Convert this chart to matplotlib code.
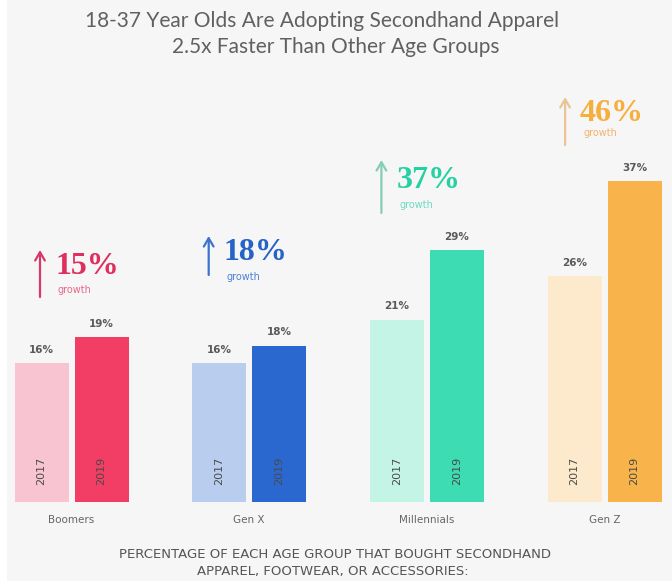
import matplotlib
matplotlib.use("Agg")
import matplotlib.pyplot as plt
from matplotlib.patches import Rectangle
import numpy as np

# ---- data -------------------------------------------------------------
groups = ["Boomers", "Gen X", "Millennials", "Gen Z"]
years = ["2017", "2019"]
share_2017 = [16, 16, 21, 26]
share_2019 = [19, 18, 29, 37]
growth = ["15%", "18%", "37%", "46%"]

# ---- styling ----------------------------------------------------------
light_colors = ["#f9c4d1", "#b9cdee", "#c4f4e6", "#fde9cb"]
dark_colors = ["#f23e64", "#2a67cf", "#3edcb2", "#f8b44a"]
pct_colors = ["#de2f5e", "#2563c9", "#25d1a2", "#f6ae3c"]
growth_colors = ["#e56b8c", "#4d82d8", "#6ddbbd", "#f2b46c"]
arrow_colors = ["#d53a69", "#3b74cf", "#86ccb6", "#e9c596"]

BG = "#f6f6f6"
W, H = 672, 581
DPI = 100

fig = plt.figure(figsize=(W / DPI, H / DPI), dpi=DPI, facecolor=BG)

# white strip along the left border
fig.patches.append(Rectangle((0, 0), 7 / W, 1, transform=fig.transFigure,
                             facecolor="white", edgecolor="none", zorder=0))

# axes geometry (pixels): bars start at y=502, 8.68 px per percentage point
base_px = 502
px_per_pct = 8.68
top_px = 80
group_px = 177.7
first_center_px = 71.5

ax = fig.add_axes([0, (H - base_px) / H, 1, (base_px - top_px) / H])
ax.set_facecolor("none")
ax.set_xlim((0 - first_center_px) / group_px, (W - first_center_px) / group_px)
ax.set_ylim(0, (base_px - top_px) / px_per_pct)
ax.axis("off")

x = np.arange(len(groups))
offset = 30 / group_px
width = 54 / group_px

ax.bar(x - offset, share_2017, width=width, color=light_colors, zorder=2)
ax.bar(x + offset, share_2019, width=width, color=dark_colors, zorder=2)

label_font = dict(family="DejaVu Sans", fontsize=7.5, fontweight="bold",
                  color="#5a5a5a")
for xi, v in zip(x - offset, share_2017):
    ax.annotate(f"{v}%", (xi, v), xytext=(0, 6), textcoords="offset points",
                ha="center", va="bottom", **label_font)
for xi, v in zip(x + offset, share_2019):
    ax.annotate(f"{v}%", (xi, v), xytext=(0, 6), textcoords="offset points",
                ha="center", va="bottom", **label_font)

# year labels inside the bars
for xi in x:
    for dx, yr in zip((-offset, offset), years):
        ax.text(xi + dx, 3.6, yr, rotation=90, ha="center", va="center",
                fontsize=8, color="#4a4a4a", family="DejaVu Sans Condensed")

# category labels under each pair of bars
for xi, g in zip(x, groups):
    ax.annotate(g, (xi, 0), xytext=(0, -13), textcoords="offset points",
                ha="center", va="center", fontsize=7.5, color="#666666",
                family="DejaVu Sans Condensed")

# growth call-outs: arrow, big serif percentage, and "growth" caption
# (pixel offsets from group centre and pixel heights of each call-out)
arrow_dx_px = [-31.5, -40.5, -45.5, -39.5]
arrow_top_px = [250, 236, 160, 97]
arrow_bot_px = [297, 275, 213, 145]
pct_y_px = [266, 252, 180, 113]
growth_y_px = [290, 277, 205, 133]


def to_pct(ypx):
    return (base_px - ypx) / px_per_pct


for i, xi in enumerate(x):
    ax_x = xi + arrow_dx_px[i] / group_px
    ax.annotate("", xy=(ax_x, to_pct(arrow_top_px[i])),
                xytext=(ax_x, to_pct(arrow_bot_px[i])),
                arrowprops=dict(arrowstyle="->,head_length=0.6,head_width=0.35",
                                color=arrow_colors[i], lw=1.6,
                                shrinkA=0, shrinkB=0))
    tx = ax_x + 15 / group_px
    ax.text(tx, to_pct(pct_y_px[i]), growth[i], ha="left", va="center",
            fontsize=23, fontweight="bold", family="Liberation Serif",
            color=pct_colors[i])
    ax.text(tx + 3 / group_px, to_pct(growth_y_px[i]), "growth", ha="left",
            va="center", fontsize=7, color=growth_colors[i],
            family="DejaVu Sans")

# title
title_font = dict(ha="center", va="center", fontsize=15, color="#606060",
                  family="Lato")
fig.text(0.48, 1 - 21 / H, "18-37 Year Olds Are Adopting Secondhand Apparel",
         **title_font)
fig.text(0.5, 1 - 47 / H, "2.5x Faster Than Other Age Groups", **title_font)

# footer caption
foot = dict(ha="center", va="center", fontsize=9.5, color="#555555",
            family="DejaVu Sans")
fig.text(335 / W, 1 - 555 / H,
         "PERCENTAGE OF EACH AGE GROUP THAT BOUGHT SECONDHAND", **foot)
fig.text(333 / W, 1 - 572 / H, "APPAREL, FOOTWEAR, OR ACCESSORIES:", **foot)

fig.savefig("out.png", dpi=DPI, facecolor=BG)
